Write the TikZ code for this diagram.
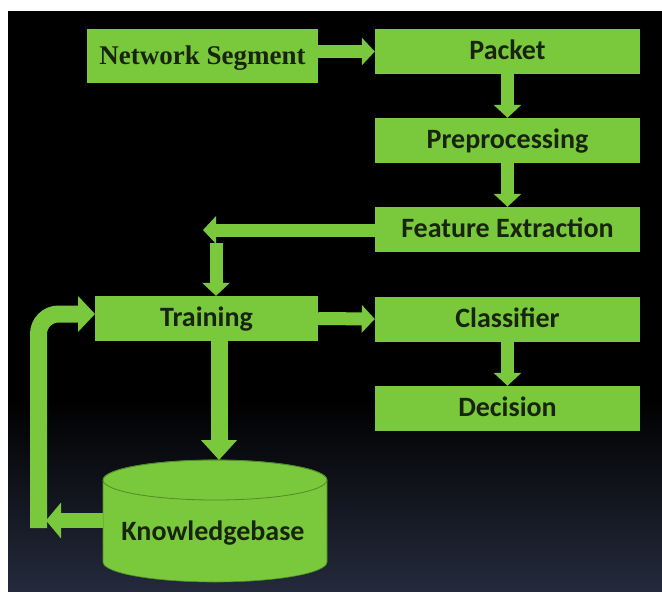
\documentclass[tikz,border=0pt]{standalone}
\usepackage{fontspec}
\newfontfamily\labfont{Carlito}
\newfontfamily\serfont{Liberation Serif}
\usetikzlibrary{arrows.meta}
\definecolor{boxgreen}{RGB}{122,201,60}
\definecolor{txtdark}{RGB}{24,36,14}
\definecolor{bgbottom}{RGB}{36,42,60}
\definecolor{rimgreen}{RGB}{80,140,40}
\begin{document}
\begin{tikzpicture}[x=1pt,y=-1pt,
  box/.style={fill=boxgreen, draw=none, inner sep=0pt, minimum height=45pt, text=txtdark,
    font=\labfont\bfseries\fontsize{28}{32}\selectfont, text height=20pt, text depth=4pt},
  rbox/.style={box, minimum width=265pt},
  arrA/.style={draw=boxgreen, line width=13pt, -{Triangle[length=13pt,width=27pt]}},
  arrB/.style={draw=boxgreen, line width=17pt, -{Triangle[length=20pt,width=35pt]}}
]
\useasboundingbox (0,0) rectangle (662,592);
\fill[white] (0,0) rectangle (662,592);
\fill[black] (8,11) rectangle (662,401);
\shade[top color=black, bottom color=bgbottom] (8,400) rectangle (662,592);

% boxes
\node[box, minimum width=231pt, minimum height=54pt, text height=21pt, text depth=4pt,
      font=\serfont\bfseries\fontsize{27}{30}\selectfont] (ns) at (202.5,56) {Network Segment};
\node[rbox] (pk) at (507.5,51.5) {Packet};
\node[rbox] (pp) at (507.5,140.5) {Preprocessing};
\node[rbox] (fe) at (507.5,229.5) {Feature Extraction};
\node[rbox] (cl) at (507.5,319) {Classifier};
\node[rbox] (de) at (507.5,408.5) {Decision};
\node[box, minimum width=223pt] (tr) at (206.5,318.5) {Training};

% cylinder
\fill[boxgreen, draw=rimgreen, line width=0.6pt] (103,480) -- (103,562)
  arc[start angle=180, end angle=0, x radius=112, y radius=20] -- (327,480)
  arc[start angle=0, end angle=-180, x radius=112, y radius=20] -- cycle;
\draw[rimgreen, line width=0.8pt] (215,480) ellipse[x radius=112, y radius=20];
\node[text=txtdark, inner sep=0pt, font=\labfont\bfseries\fontsize{28}{32}\selectfont,
      text height=20pt, text depth=4pt] (kb) at (213,532) {Knowledgebase};

% connectors
\draw[arrA] (ns.east |- pk.west) -- (pk.west);
\draw[arrA] (pk.south) -- (pp.north);
\draw[arrA] (pp.south) -- (fe.north);
\coordinate (fl) at (203,230);
\draw[arrA] (fe.west |- fl) -- (fl);
\coordinate (fd) at (216,243);
\draw[arrA] (fd) -- (fd |- tr.north);
\draw[arrA] (tr.east) -- (cl.west);
\draw[arrA] (cl.south) -- (de.north);
\coordinate (kt) at (219,460);
\draw[arrB] (kt |- tr.south) -- (kt);
\coordinate (kbw) at (103,520.5);
\coordinate (kl) at (46,520.5);
\draw[arrA, line width=15pt, -{Triangle[length=15pt,width=35pt]}] (kbw) -- (kl);
\coordinate (lb) at (38.5,528);
\coordinate (tw) at (95,314);
\draw[arrB, -{Triangle[length=17pt,width=35pt]}, rounded corners=20pt] (lb) -- (lb |- tw) -- (tw);
\end{tikzpicture}
\end{document}
